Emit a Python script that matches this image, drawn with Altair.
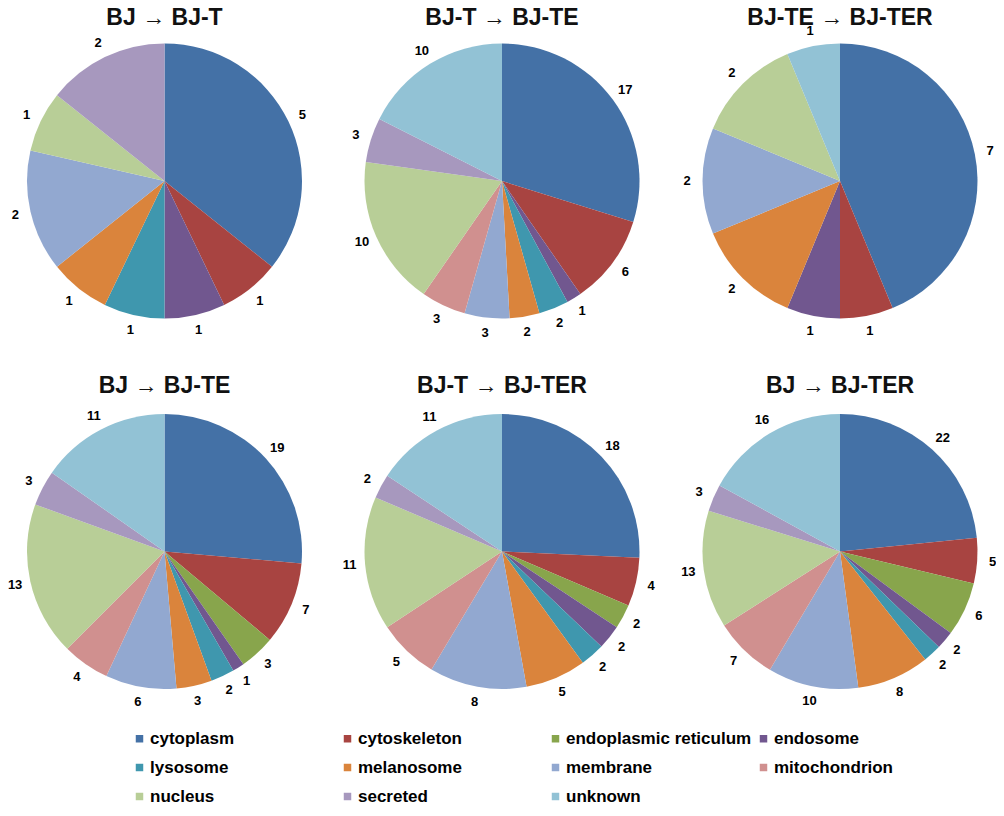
import altair as alt
import pandas as pd

categories = ["cytoplasm", "cytoskeleton", "endoplasmic reticulum", "endosome",
              "lysosome", "melanosome", "membrane", "mitochondrion",
              "nucleus", "secreted", "unknown"]
colors = ["#4471A6", "#A84441", "#88A54C", "#71578F", "#3F97AE", "#DA843C",
          "#92A8D0", "#D0908F", "#B8CE97", "#A798BE", "#92C2D5"]

pie_titles = ["BJ \u2192 BJ-T", "BJ-T \u2192 BJ-TE", "BJ-TE \u2192 BJ-TER",
              "BJ \u2192 BJ-TE", "BJ-T \u2192 BJ-TER", "BJ \u2192 BJ-TER"]

# counts per category (order as in `categories`)
bj_bjt       = [5, 1, 0, 1, 1, 1, 2, 0, 1, 2, 0]
bjt_bjte     = [17, 6, 0, 1, 2, 2, 3, 3, 10, 3, 10]
bjte_bjter   = [7, 1, 0, 1, 0, 2, 2, 0, 2, 0, 1]
bj_bjte      = [19, 7, 3, 1, 2, 3, 6, 4, 13, 3, 11]
bjt_bjter    = [18, 4, 2, 2, 2, 5, 8, 5, 11, 2, 11]
bj_bjter     = [22, 5, 6, 2, 2, 8, 10, 7, 13, 3, 16]
series = [bj_bjt, bjt_bjte, bjte_bjter, bj_bjte, bjt_bjter, bj_bjter]

# layout (pixels, chart coordinates)
centers = [(156.5, 173), (494, 173), (832, 173),
           (156.5, 543.5), (494, 543.5), (832, 543.5)]
title_y = [17, 17, 17, 385, 385, 385]
R = 137.5
LABEL_R = 153

FONT = "Liberation Sans"

legend = alt.Legend(
    orient="none", legendX=123, legendY=722, columns=4, direction="horizontal",
    title=None,
    symbolType="square", symbolSize=56, symbolStrokeWidth=0, symbolOpacity=1,
    labelFont=FONT, labelFontSize=17, labelFontWeight="bold", labelColor="black",
    labelOffset=2, columnPadding=3, rowPadding=11, gridAlign="all",
    labelLimit=400, padding=0,
)
color = alt.Color("category:N", scale=alt.Scale(domain=categories, range=colors),
                  legend=legend)

layers = []
for vals, (cx, cy), title, ty in zip(series, centers, pie_titles, title_y):
    df = pd.DataFrame({"category": categories, "value": vals,
                       "idx": list(range(len(categories)))})
    df = df[df["value"] > 0]
    base = alt.Chart(df).encode(
        theta=alt.Theta("value:Q", stack="normalize"),
        order=alt.Order("idx:Q"),
        x=alt.value(cx), y=alt.value(cy),
    )
    arc = base.mark_arc(outerRadius=R, strokeWidth=0).encode(color=color)
    txt = base.mark_text(radius=LABEL_R, font=FONT, fontSize=13, fontWeight="bold",
                         color="black", align="center", baseline="middle").encode(
        text="value:Q")
    ttl = alt.Chart(pd.DataFrame({"t": [title]})).mark_text(
        font=FONT, fontSize=23, fontWeight="bold", color="#111111",
        align="center", baseline="alphabetic").encode(
        text="t:N", x=alt.value(cx), y=alt.value(ty))
    layers += [arc, txt, ttl]

chart = alt.layer(*layers).properties(
    width=988, height=796,
    autosize=alt.AutoSizeParams(type="none"),
    padding=0,
).configure_view(stroke=None)

chart.save("out.html", embed_options={"renderer": "svg", "actions": False})
